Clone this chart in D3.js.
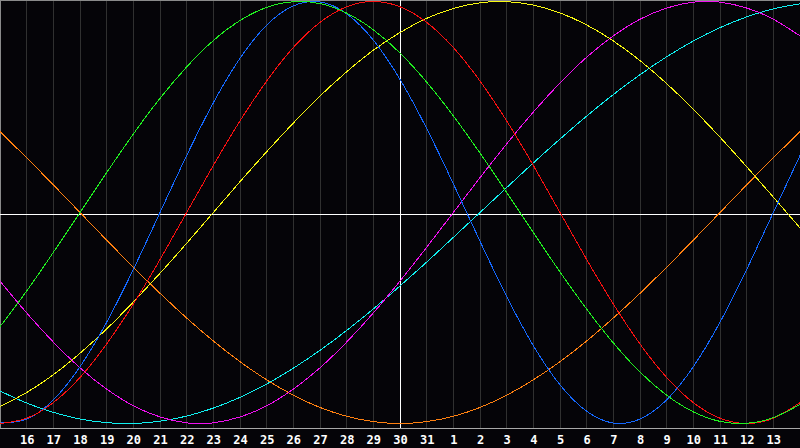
<!DOCTYPE html>
<html>
<head>
<meta charset="utf-8">
<script src="https://cdn.jsdelivr.net/npm/d3@7"></script>
<style>
html,body{margin:0;padding:0;background:#050408;}
svg{display:block;}
</style>
</head>
<body>
<svg id="chart" width="800" height="448"></svg>
<script>
// Day labels for grid positions 1..29 (position 0 = 15th, position 30 = 14th)
const dayLabels = ["16","17","18","19","20","21","22","23","24","25","26","27","28","29","30","31","1","2","3","4","5","6","7","8","9","10","11","12","13"];
const todayIndex = 15; // "30"

// Values per day (index 0..30), range -1..1
const intellectual = [-0.541,-0.372,-0.189,0,0.189,0.372,0.541,0.690,0.815,0.910,0.972,0.999,0.990,0.945,0.866,0.756,0.618,0.458,0.282,0.095,-0.095,-0.282,-0.458,-0.618,-0.756,-0.866,-0.945,-0.990,-0.999,-0.972,-0.910];
const physical = [-0.998,-0.979,-0.888,-0.731,-0.520,-0.270,0,0.270,0.520,0.731,0.888,0.979,0.998,0.942,0.817,0.631,0.398,0.136,-0.136,-0.398,-0.631,-0.817,-0.942,-0.998,-0.979,-0.888,-0.731,-0.520,-0.270,0,0.270];
const emotional = [-1,-0.975,-0.901,-0.782,-0.623,-0.434,-0.223,0,0.223,0.434,0.623,0.782,0.901,0.975,1,0.975,0.901,0.782,0.623,0.434,0.223,0,-0.223,-0.434,-0.623,-0.782,-0.901,-0.975,-1,-0.975,-0.901];
const aesthetic = [-0.920,-0.853,-0.769,-0.667,-0.552,-0.424,-0.288,-0.146,0,0.146,0.288,0.424,0.552,0.667,0.769,0.853,0.920,0.967,0.994,0.999,0.983,0.946,0.889,0.813,0.720,0.611,0.489,0.357,0.217,0.073,-0.073];
const intuitive = [-0.325,-0.476,-0.614,-0.736,-0.837,-0.916,-0.969,-0.997,-0.997,-0.969,-0.916,-0.837,-0.736,-0.614,-0.476,-0.325,-0.165,0,0.165,0.325,0.476,0.614,0.736,0.837,0.916,0.969,0.997,0.997,0.969,0.916,0.837];
const spiritual = [-0.846,-0.903,-0.947,-0.979,-0.996,-1.000,-0.989,-0.965,-0.927,-0.876,-0.813,-0.738,-0.653,-0.559,-0.457,-0.348,-0.235,-0.118,0,0.118,0.235,0.348,0.457,0.559,0.653,0.738,0.813,0.876,0.927,0.965,0.989];
const awareness = [0.383,0.259,0.131,0,-0.131,-0.259,-0.383,-0.5,-0.609,-0.707,-0.793,-0.866,-0.924,-0.966,-0.991,-1,-0.991,-0.966,-0.924,-0.866,-0.793,-0.707,-0.609,-0.5,-0.383,-0.259,-0.131,0,0.131,0.259,0.383];

const seriesNames = ["awareness","spiritual","intuitive","aesthetic","physical","emotional","intellectual"];
const seriesValues = [awareness, spiritual, intuitive, aesthetic, physical, emotional, intellectual];
const seriesColors = ["#ff8010","#10f0f0","#f010f0","#f8f810","#1468ff","#f81010","#20f020"];

const W = 800, plotBottom = 428;
const svg = d3.select("#chart");
const x = d3.scaleLinear().domain([0, 30]).range([0, 800]);
const y = d3.scaleLinear().domain([-1, 1]).range([423.5, 1.5]);

svg.append("rect").attr("width", 800).attr("height", 448).attr("fill", "#050408");

// grid
const gridIdx = d3.range(1, 30);
svg.append("g").selectAll("line").data(gridIdx).join("line")
  .attr("x1", d => Math.floor(x(d)) + 0.5).attr("x2", d => Math.floor(x(d)) + 0.5)
  .attr("y1", 0).attr("y2", plotBottom)
  .attr("stroke", "#303030").attr("stroke-width", 1).attr("shape-rendering", "crispEdges");

// frame
svg.append("line").attr("x1", 0.5).attr("x2", 0.5).attr("y1", 0).attr("y2", plotBottom)
  .attr("stroke", "#8a8a8a").attr("shape-rendering", "crispEdges");
svg.append("line").attr("x1", 0).attr("x2", W).attr("y1", 0.5).attr("y2", 0.5)
  .attr("stroke", "#8a8a8a").attr("shape-rendering", "crispEdges");
svg.append("line").attr("x1", 0).attr("x2", W).attr("y1", plotBottom + 0.5).attr("y2", plotBottom + 0.5)
  .attr("stroke", "#a8a8a8").attr("shape-rendering", "crispEdges");

// zero line and today line
svg.append("line").attr("x1", 0).attr("x2", W).attr("y1", 214.5).attr("y2", 214.5)
  .attr("stroke", "#ffffff").attr("shape-rendering", "crispEdges");
svg.append("line").attr("x1", Math.floor(x(todayIndex)) + 0.5).attr("x2", Math.floor(x(todayIndex)) + 0.5)
  .attr("y1", 0).attr("y2", plotBottom)
  .attr("stroke", "#ffffff").attr("shape-rendering", "crispEdges");

// curves
const line = d3.line().x((d, i) => x(i)).y(d => y(d)).curve(d3.curveNatural);
svg.append("g").selectAll("path").data(seriesValues).join("path")
  .attr("d", d => line(d))
  .attr("fill", "none")
  .attr("stroke", (d, i) => seriesColors[i])
  .attr("stroke-width", 1)
  .attr("shape-rendering", "crispEdges");

// axis labels
const axis = d3.axisBottom(x).tickValues(gridIdx).tickFormat((d, i) => dayLabels[i]).tickSize(0).tickPadding(0);
const ag = svg.append("g").attr("transform", `translate(0,${plotBottom})`).call(axis);
ag.select(".domain").remove();
ag.selectAll("text")
  .attr("y", 15.5).attr("dy", null)
  .attr("fill", "#ffffff")
  .style("font-family", "'DejaVu Sans Mono', monospace")
  .style("font-weight", "bold")
  .style("font-size", "12px");
</script>
</body>
</html>
